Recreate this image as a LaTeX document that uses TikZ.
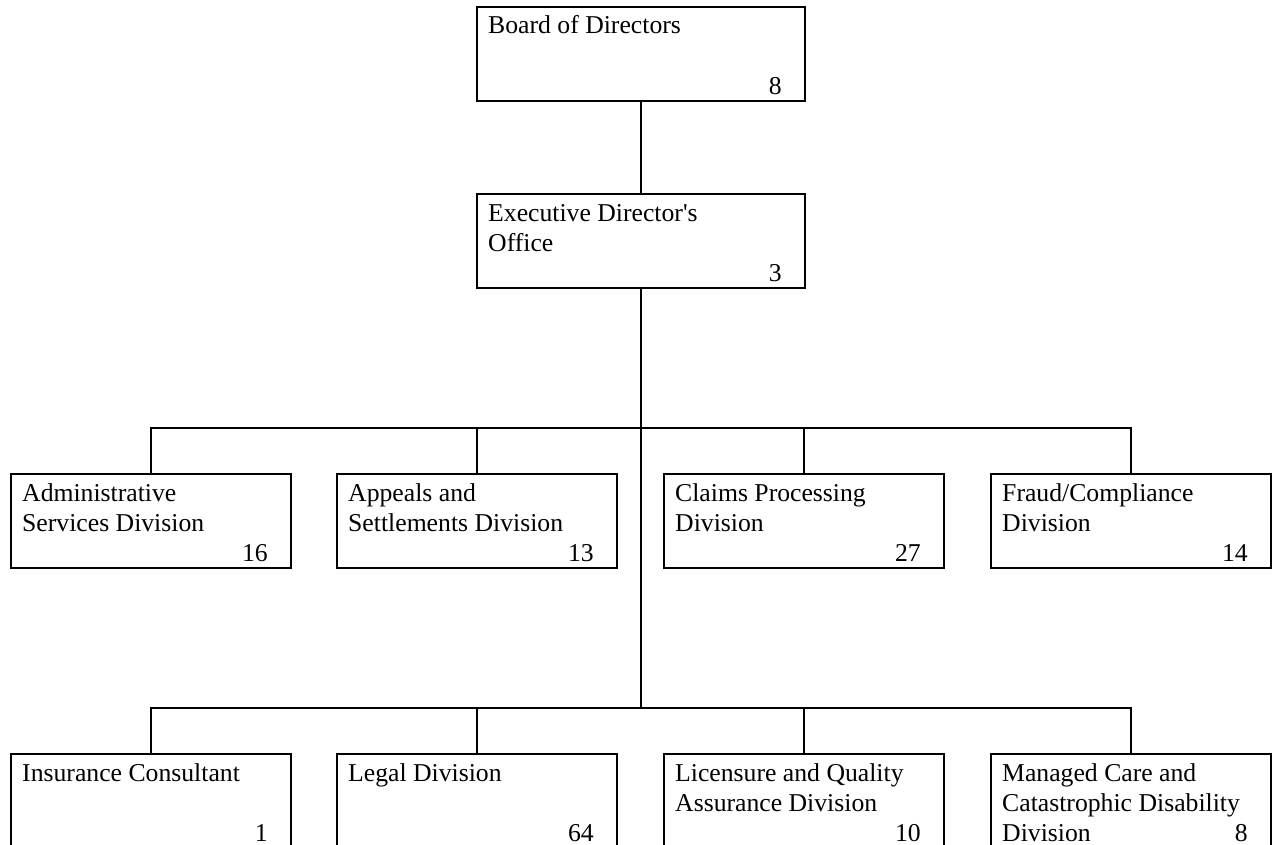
\documentclass[tikz,border=0pt]{standalone}
\usepackage{fontspec}
\setmainfont{Liberation Serif}
\newcommand{\straightquote}{{\addfontfeature{Ligatures=TeXOff}'}}
\usetikzlibrary{calc}
\tikzset{
  orgbox/.style={draw=black, line width=2pt, rectangle, inner sep=0pt, outer sep=0pt, anchor=north west, minimum height=94pt},
  wide/.style={orgbox, minimum width=328pt},
  narrow/.style={orgbox, minimum width=280pt},
  orgtxt/.style={inner sep=0pt, anchor=base west, font=\fontsize{25.7}{30}\selectfont},
  orgnum/.style={inner sep=0pt, anchor=base east, font=\fontsize{25.7}{30}\selectfont},
  link/.style={draw=black, line width=2pt}
}
\newcommand{\orglines}[4]{%
  \node[orgtxt] (#1-a) at ($(#1.north west)+(11,27)$) {#2};
  \node[orgtxt] (#1-b) at ($(#1.north west)+(11,57)$) {#3};
  \node[orgtxt] (#1-c) at ($(#1.north west)+(11,87)$) {#4};
}
\newcommand{\orgnumber}[2]{%
  \node[orgnum] (#1-n) at ($(#1.north east)+(-23,87.5)$) {#2};
}
\begin{document}
\begin{tikzpicture}[x=1pt,y=-1pt]
\useasboundingbox (0,0) rectangle (1273,845);
% boxes
\node[wide] (board) at (477,7) {};
\node[wide] (exec) at (477,194) {};
\node[narrow] (admin) at (11,474) {};
\node[narrow] (appeals) at (337,474) {};
\node[narrow] (claims) at (664,474) {};
\node[narrow] (fraud) at (991,474) {};
\node[narrow] (ins) at (11,754) {};
\node[narrow] (legal) at (337,754) {};
\node[narrow] (lic) at (664,754) {};
\node[narrow] (mc) at (991,754) {};
% texts
\orglines{board}{Board of Directors}{}{}
\orgnumber{board}{8}
\orglines{exec}{Executive Director\straightquote s}{Office}{}
\orgnumber{exec}{3}
\orglines{admin}{Administrative}{Services Division}{}
\orgnumber{admin}{16}
\orglines{appeals}{Appeals and}{Settlements Division}{}
\orgnumber{appeals}{13}
\orglines{claims}{Claims Processing}{Division}{}
\orgnumber{claims}{27}
\orglines{fraud}{Fraud/Compliance}{Division}{}
\orgnumber{fraud}{14}
\orglines{ins}{Insurance Consultant}{}{}
\orgnumber{ins}{1}
\orglines{legal}{Legal Division}{}{}
\orgnumber{legal}{64}
\orglines{lic}{Licensure and Quality}{Assurance Division}{}
\orgnumber{lic}{10}
\orglines{mc}{Managed Care and}{Catastrophic Disability}{Division}
\orgnumber{mc}{8}
% connectors
\coordinate (bus1) at ($(exec.south)+(0,140)$);
\coordinate (bus2) at ($(exec.south)+(0,420)$);
\draw[link] (board.south) -- (exec.north);
\draw[link] (exec.south) -- (bus2);
\draw[link] (admin.north) |- (bus1) -| (fraud.north);
\draw[link] (appeals.north) -- (appeals.north |- bus1);
\draw[link] (claims.north) -- (claims.north |- bus1);
\draw[link] (ins.north) |- (bus2) -| (mc.north);
\draw[link] (legal.north) -- (legal.north |- bus2);
\draw[link] (lic.north) -- (lic.north |- bus2);
\end{tikzpicture}
\end{document}
